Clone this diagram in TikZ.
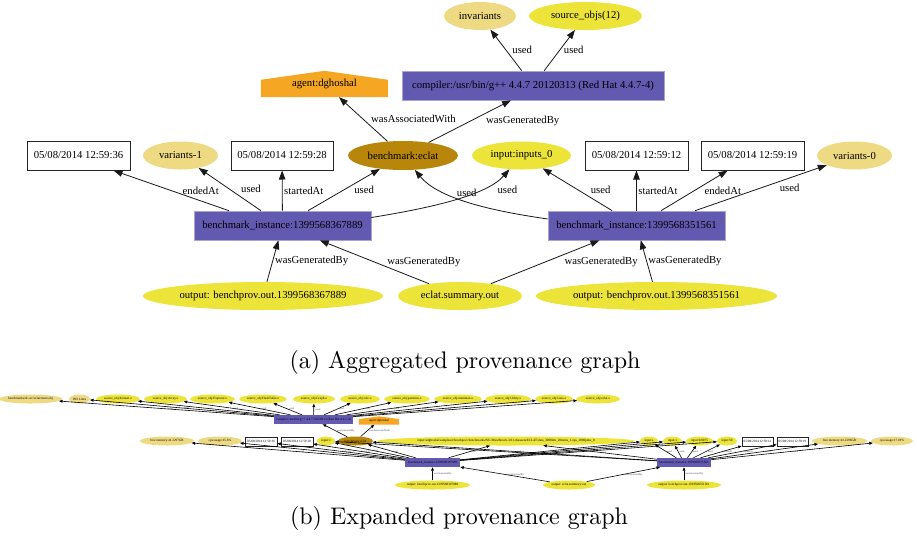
\documentclass[tikz,border=0pt]{standalone}
\usepackage{fontspec}
\newfontfamily\gvfont{Liberation Serif}
\usetikzlibrary{shapes.geometric,arrows.meta,backgrounds,calc}
\definecolor{entY}{HTML}{EDE43A}
\definecolor{entK}{HTML}{EDDA82}
\definecolor{actP}{HTML}{6259B1}
\definecolor{eclC}{HTML}{B8860B}
\definecolor{agO}{HTML}{F5A623}
\begin{document}
\begin{tikzpicture}[x=1pt,y=-1pt,
 every node/.style={font=\gvfont\fontsize{10.7}{12}\selectfont, text=black},
 ey/.style={ellipse, fill=entY, inner sep=0pt, minimum height=28pt},
 ek/.style={ellipse, fill=entK, inner sep=0pt, minimum height=28pt},
 eg/.style={ellipse, fill=eclC, inner sep=0pt, minimum height=29pt},
 act/.style={rectangle, fill=actP, draw=actP!55!white, line width=0.6pt, minimum height=29pt, inner sep=0pt},
 tbox/.style={rectangle, fill=white, draw=black!85, line width=1pt, minimum height=29pt, inner sep=0pt},
 agn/.style={rectangle, inner sep=0pt, minimum height=26pt},
 ed/.style={draw=black!90, line width=0.8pt, -{Triangle[length=9pt,width=6.5pt]}},
 lbl/.style={font=\gvfont\fontsize{10.7}{12}\selectfont, inner sep=0pt, anchor=west},
 sfont/.style={font=\gvfont\fontsize{3.3}{4}\selectfont},
 bey/.style={ellipse, fill=entY, inner sep=0pt, minimum height=9pt, sfont},
 bek/.style={ellipse, fill=entK, inner sep=0pt, minimum height=9pt, sfont},
 beg/.style={ellipse, fill=eclC, inner sep=0pt, minimum height=9pt, sfont},
 bact/.style={rectangle, fill=actP, inner sep=0pt, minimum height=9pt, sfont},
 btbox/.style={rectangle, fill=white, draw=black!85, line width=0.6pt, minimum height=9pt, inner sep=0pt, sfont},
 bagn/.style={rectangle, inner sep=0pt, minimum height=8pt, sfont},
 bed/.style={draw=black, line width=0.6pt, -{Triangle[length=3.5pt,width=2.8pt]}},
 blbl/.style={font=\gvfont\fontsize{2.6}{3}\selectfont, text=black!70, inner sep=0pt, anchor=west},
 capt/.style={font=\normalfont\fontsize{10}{12}\selectfont, scale=2.4, transform shape, inner sep=0pt}
]
\useasboundingbox (0,0) rectangle (917,542);

% ---------------- (a) aggregated graph ----------------
\node[ek, minimum width=72pt] (inv) at (480,16) {invariants};
\node[ey, minimum width=113pt] (src) at (585.5,16) {source\_objs(12)};
\node[act, minimum width=262pt] (comp) at (533,85.5) {compiler:/usr/bin/g++ 4.4.7 20120313 (Red Hat 4.4.7-4)};
\node[agn, minimum width=127pt] (ag) at (324.5,84) {agent:dghoshal};
\node[eg, minimum width=110pt] (ecl) at (403,155.5) {benchmark:eclat};
\node[tbox, minimum width=103pt] (d36) at (78.5,155.5) {05/08/2014 12:59:36};
\node[ek, minimum width=75pt] (var1) at (180.5,155.5) {variants-1};
\node[tbox, minimum width=102pt] (d28) at (282,155.5) {05/08/2014 12:59:28};
\node[ey, minimum width=99pt] (inp) at (521.5,155.5) {input:inputs\_0};
\node[tbox, minimum width=103pt] (d12) at (636.5,155.5) {05/08/2014 12:59:12};
\node[tbox, minimum width=103pt] (d19) at (752.5,155.5) {05/08/2014 12:59:19};
\node[ek, minimum width=75pt] (var0) at (854.5,155.5) {variants-0};
\node[act, minimum width=177pt] (bi1) at (282.5,225.5) {benchmark\_instance:1399568367889};
\node[act, minimum width=177pt] (bi2) at (636.5,225.5) {benchmark\_instance:1399568351561};
\node[ey, minimum width=240pt] (out1) at (263,296) {output: benchprov.out.1399568367889};
\node[ey, minimum width=124pt] (sum) at (460,296) {eclat.summary.out};
\node[ey, minimum width=241pt] (out2) at (656.5,296) {output: benchprov.out.1399568351561};

\begin{scope}[on background layer]
\fill[agO] (ag.south west) -- (ag.south east) -- ([yshift=-9pt]ag.north east) -- (ag.north) -- ([yshift=-9pt]ag.north west) -- cycle;
\end{scope}

\draw[ed] (comp) -- node[lbl,xshift=6pt]{used} (inv);
\draw[ed] (comp) -- node[lbl,xshift=4pt]{used} (src);
\draw[ed] (ecl) -- node[lbl,xshift=7.5pt]{wasAssociatedWith} (ag);
\draw[ed] (ecl) -- node[lbl,xshift=16pt]{wasGeneratedBy} ([xshift=-22pt]comp.south);
\draw[ed] ([xshift=-53.5pt]bi1.north) -- node[lbl,xshift=11pt]{endedAt} ([xshift=35pt]d36.south);
\draw[ed] (bi1) -- node[lbl,xshift=11pt]{used} (var1);
\draw[ed] (bi1) -- node[lbl,xshift=1.5pt]{startedAt} (d28);
\draw[ed] (bi1) -- node[lbl,xshift=10pt]{used} (ecl);
\draw[ed] ([yshift=8pt]bi1.east) .. controls +(59,-9.5) and +(-35,40) .. node[lbl,pos=0.7,xshift=16.5pt]{used} (inp);
\draw[ed] ([yshift=6.5pt]bi2.west) .. controls +(-48,-7) and +(37,45) .. node[lbl,pos=0.7,xshift=11pt]{used} (ecl);
\draw[ed] (bi2) -- node[lbl,xshift=13pt]{used} (inp);
\draw[ed] (bi2) -- node[lbl,xshift=1.5pt]{startedAt} (d12);
\draw[ed] (bi2) -- node[lbl,xshift=10pt]{endedAt} (d19);
\draw[ed] ([xshift=58.5pt]bi2.north) -- node[lbl,xshift=18.5pt]{used} (var0);
\draw[ed] (out1) -- node[lbl,xshift=2pt]{wasGeneratedBy} (bi1);
\draw[ed] (sum) -- node[lbl,xshift=12.5pt]{wasGeneratedBy} (bi1);
\draw[ed] (sum) -- node[lbl,xshift=19pt]{wasGeneratedBy} (bi2);
\draw[ed] (out2) -- node[lbl,xshift=1.5pt]{wasGeneratedBy} (bi2);

\node[capt] (capa) at (465,362) {(a) Aggregated provenance graph};

% ---------------- (b) expanded graph ----------------
\node[bek, minimum width=51pt] (t1) at (30.5,399) {benchmarks/dc-src/eclat/main.obj};
\node[bek, minimum width=21pt] (t2) at (79.5,399) {ISO Lines};
\node[bey, minimum width=44pt] (t3) at (118,399) {source\_obj:Itemset.o};
\node[bey, minimum width=43pt] (t4) at (165.5,399) {source\_obj:Array.o};
\node[bey, minimum width=45pt] (t5) at (212.5,399) {source\_obj:Explorer.o};
\node[bey, minimum width=48pt] (t6) at (263,399) {source\_obj:HashTable.o};
\node[bey, minimum width=42pt] (t7) at (314,399) {source\_obj:Graph.o};
\node[bey, minimum width=40pt] (t8) at (360,399) {source\_obj:calc.o};
\node[bey, minimum width=46pt] (t9) at (407,399) {source\_obj:partition.o};
\node[bey, minimum width=48pt] (t10) at (458,399) {source\_obj:memman.o};
\node[bey, minimum width=46pt] (t11) at (508,399) {source\_obj:Utility.o};
\node[bey, minimum width=38pt] (t12) at (554,399) {source\_obj:Lists.o};
\node[bey, minimum width=44pt] (t13) at (598,399) {source\_obj:eclat.o};

\node[bact, minimum width=79pt] (cb) at (313.5,419.5) {compiler:/usr/bin/g++ 4.4.7 20120313 (Red Hat 4.4.7-4)};
\node[bagn, minimum width=40pt] (agb) at (379,420.5) {agent:dghoshal};
\begin{scope}[on background layer]
\fill[agO] (agb.south west) -- (agb.south east) -- ([yshift=-2.8pt]agb.north east) -- (agb.north) -- ([yshift=-2.8pt]agb.north west) -- cycle;
\end{scope}

\node[bek, minimum width=54pt] (r1) at (167,441) {free memory:41.2297GB};
\node[bek, minimum width=44pt] (r2) at (220,441) {cpu usage:15.6\%};
\node[btbox, minimum width=32pt] (r3) at (261,441.5) {05/08/2014 12:59:36};
\node[btbox, minimum width=32pt] (r4) at (297,441.5) {05/08/2014 12:59:28};
\node[bey, minimum width=18pt] (r5) at (326,441) {input:x};
\node[beg, minimum width=35pt] (r6) at (355.5,441) {benchmark:eclat};
\node[bey, minimum width=258pt] (r7) at (506,441) {input:/sdghoshal/sampleset/benchprov/benchmarks/NU-MineBench-3.0.1/datasets/ECLAT/data\_3000dm\_20items\_1.ops\_2000pdus\_0};
\node[bey, minimum width=18pt] (r8) at (649,441) {input:s};
\node[bey, minimum width=19pt] (r9) at (672.5,441) {input:x};
\node[bey, minimum width=27pt] (r10) at (699.5,441) {input:0.0075};
\node[bey, minimum width=20pt] (r11) at (727,441) {input:50};
\node[btbox, minimum width=31pt] (r12) at (757.5,441.5) {05/08/2014 12:59:12};
\node[btbox, minimum width=31pt] (r13) at (792.5,441.5) {05/08/2014 12:59:19};
\node[bek, minimum width=55pt] (r14) at (839.5,441) {free memory:41.2296GB};
\node[bek, minimum width=42pt] (r15) at (892,441) {cpu usage:17.18\%};

\node[bact, minimum width=55pt] (bb1) at (432.5,462.5) {benchmark\_instance:1399568367889};
\node[bact, minimum width=54pt] (bb2) at (684,462.5) {benchmark\_instance:1399568351561};

\node[bey, minimum width=75pt] (o1) at (432.5,485) {output: benchprov.out.1399568367889};
\node[bey, minimum width=52pt] (sb) at (569,485) {output: eclat.summary.out};
\node[bey, minimum width=74pt] (o2) at (684,485) {output: benchprov.out.1399568351561};

\foreach \t in {t1,t2,t3,t4,t5,t6,t7,t8,t9,t10,t11,t12,t13}
  \draw[bed] (cb) -- node[blbl,xshift=1.5pt]{used} (\t);
\draw[bed] (r6) -- node[blbl,xshift=1.5pt]{wasAssociatedWith} (agb);
\draw[bed] (r6) -- node[blbl,xshift=1.5pt]{wasGeneratedBy} (cb);

\draw[bed] (bb1) -- node[blbl,xshift=1pt]{used} (r1);
\draw[bed] (bb1) -- node[blbl,xshift=1pt]{used} (r2);
\draw[bed] (bb1) -- node[blbl,xshift=1pt]{endedAt} (r3);
\draw[bed] (bb1) -- node[blbl,xshift=1pt]{startedAt} (r4);
\foreach \t in {r5,r6,r7,r8,r9,r10,r11}
  \draw[bed] (bb1) -- node[blbl,xshift=1pt]{used} (\t);
\foreach \t in {r5,r6,r7,r8,r9,r10,r11}
  \draw[bed] (bb2) -- node[blbl,xshift=1pt]{used} (\t);
\draw[bed] (bb2) -- node[blbl,xshift=1pt]{startedAt} (r12);
\draw[bed] (bb2) -- node[blbl,xshift=1pt]{endedAt} (r13);
\draw[bed] (bb2) -- node[blbl,xshift=1pt]{used} (r14);
\draw[bed] (bb2) -- node[blbl,xshift=1pt]{used} (r15);

\draw[bed] (o1) -- node[blbl,xshift=1pt]{wasGeneratedBy} (bb1);
\draw[bed] (sb) -- node[blbl,xshift=1pt]{wasGeneratedBy} (bb1);
\draw[bed] (sb) -- node[blbl,xshift=1pt]{wasGeneratedBy} (bb2);
\draw[bed] (o2) -- node[blbl,xshift=1pt]{wasGeneratedBy} (bb2);

\node[capt] (capb) at (459,518.5) {(b) Expanded provenance graph};
\end{tikzpicture}
\end{document}
